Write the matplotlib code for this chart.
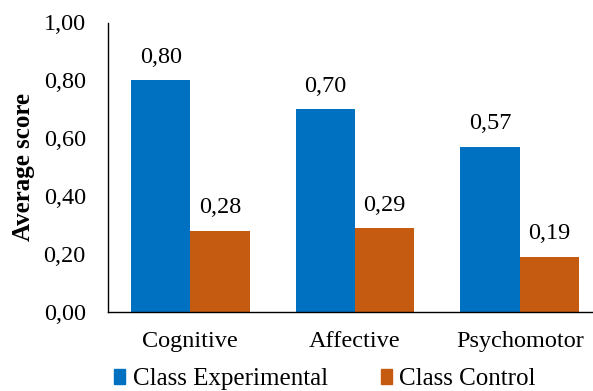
import matplotlib
matplotlib.use("Agg")
import matplotlib.pyplot as plt
import numpy as np
from matplotlib.patches import Patch

plt.rcParams['font.family'] = ['Liberation Serif', 'DejaVu Serif']

categories = ['Cognitive', 'Affective', 'Psychomotor']
experimental = [0.80, 0.70, 0.57]
control = [0.28, 0.29, 0.19]
y_ticks = [0.0, 0.2, 0.4, 0.6, 0.8, 1.0]

BLUE = '#0070C0'
ORANGE = '#C55A11'
FS = 17.5

fig = plt.figure(figsize=(5.93, 3.91), dpi=100)
ax = fig.add_axes([108 / 593, 1 - 312 / 391, 494 / 593, 289.5 / 391])

x = np.arange(len(categories))
w = 0.36
b1 = ax.bar(x - w / 2, experimental, w, color=BLUE)
b2 = ax.bar(x + w / 2, control, w, color=ORANGE)

def fmt(v):
    return f'{v:.2f}'.replace('.', ',')

for bars, vals in ((b1, experimental), (b2, control)):
    for bar, v in zip(bars, vals):
        ax.annotate(fmt(v), (bar.get_x() + bar.get_width() / 2, v),
                    xytext=(0, 9), textcoords='offset points',
                    ha='center', va='bottom', fontsize=FS)

ax.set_xlim(-0.5, 2.5)
ax.set_ylim(0, 1.0)
ax.set_yticks(y_ticks)
ax.set_yticklabels([fmt(t) for t in y_ticks], fontsize=FS)
ax.set_xticks(x)
ax.set_xticklabels(categories, fontsize=FS)
ax.tick_params(axis='both', length=0)
ax.tick_params(axis='x', pad=14)
ax.tick_params(axis='y', pad=16)
for s in ('top', 'right'):
    ax.spines[s].set_visible(False)
for s in ('left', 'bottom'):
    ax.spines[s].set_color('black')
    ax.spines[s].set_linewidth(1.0)

ax.set_ylabel('Average score', fontsize=18, fontweight='bold', labelpad=6)

handles = [Patch(color=BLUE), Patch(color=ORANGE)]
fig.legend(handles, ['Class Experimental', 'Class Control'],
           loc='center', bbox_to_anchor=(0.548, 1 - 379 / 391), ncol=2,
           frameon=False, fontsize=18, handlelength=0.45, handleheight=0.55,
           handletextpad=0.3, columnspacing=2.1, borderpad=0)

fig.savefig('out.png', dpi=100)
